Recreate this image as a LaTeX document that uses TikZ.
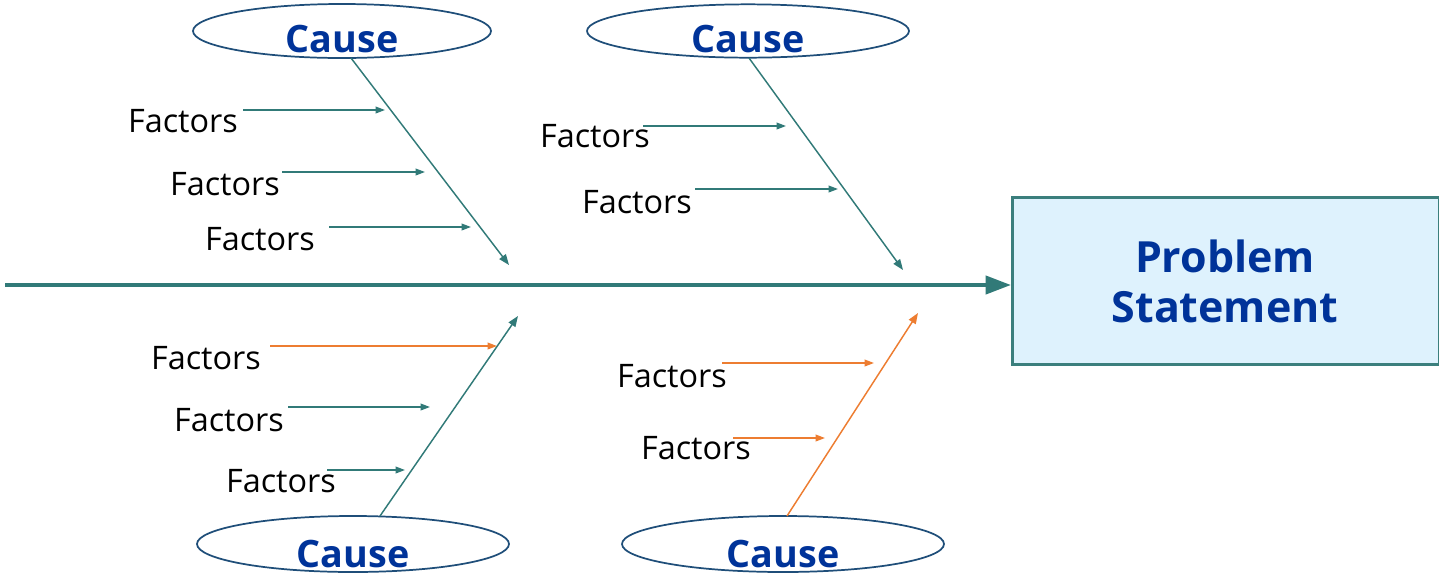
\documentclass[tikz,border=0pt]{standalone}
\usepackage{fontspec}
\setmainfont{Open Sans}
\usetikzlibrary{arrows.meta,shapes.geometric}
\definecolor{bone}{RGB}{49,122,120}
\definecolor{warm}{RGB}{237,125,49}
\definecolor{causeblue}{RGB}{0,51,153}
\definecolor{rim}{RGB}{31,78,121}
\definecolor{boxfill}{RGB}{222,242,253}
\definecolor{boxedge}{RGB}{59,127,125}
\begin{document}
\begin{tikzpicture}[x=0.75pt,y=-0.75pt,
  causering/.style={ellipse,draw=rim,line width=1.3pt,inner sep=0pt,fill=none},
  causetext/.style={font=\fontsize{28.3}{31}\selectfont\bfseries,text=causeblue,inner sep=0pt},
  factor/.style={font=\fontsize{24.3}{27}\selectfont,inner sep=0pt},
  rib/.style={line width=1.1pt,-{Triangle[length=8pt,width=6pt]}},
  twig/.style={line width=1.1pt,-{Triangle[length=7pt,width=5pt]}},
  spine/.style={draw=bone,line width=3pt,-{Triangle[length=19pt,width=13.5pt]}}]
\useasboundingbox (0,0) rectangle (1439,576);

% problem box at the head of the fish
\node (head) [draw=boxedge,fill=boxfill,line width=2pt,minimum width=427pt*0.75,
  minimum height=167pt*0.75,anchor=north west,inner sep=0pt] at (1011,196) {};
\node (headtext) [font=\fontsize{32.2}{37.5}\selectfont\bfseries,text=causeblue,
  align=center,inner sep=0pt] at (1225,281) {Problem\\Statement};

% backbone
\coordinate (tail) at (5,285);
\draw[spine] (tail) -- (tail -| head.west);

% cause ellipses
\node (c1) [causering,minimum width=223.5pt,minimum height=40.5pt] at (342,31) {};
\node (c2) [causering,minimum width=241.5pt,minimum height=40pt] at (748,31) {};
\node (c3) [causering,minimum width=234pt,minimum height=42pt] at (353,544) {};
\node (c4) [causering,minimum width=241.5pt,minimum height=42pt] at (783,544) {};
\node (t1) [causetext] at (342,39) {Cause};
\node (t2) [causetext] at (748,39) {Cause};
\node (t3) [causetext] at (353,554) {Cause};
\node (t4) [causetext] at (783,554) {Cause};

% main bones
\coordinate (b1s) at (351,58);  \coordinate (b1e) at (509,265);
\coordinate (b2s) at (749,58);  \coordinate (b2e) at (903,270);
\coordinate (b3s) at (380,516); \coordinate (b3e) at (518,316);
\coordinate (b4s) at (787,516); \coordinate (b4e) at (918,313);
\draw[rib,bone] (b1s) -- (b1e);
\draw[rib,bone] (b2s) -- (b2e);
\draw[rib,bone] (b3s) -- (b3e);
\draw[rib,warm] (b4s) -- (b4e);

% factor labels
\node (f1) [factor] at (183,121) {Factors};
\node (f2) [factor] at (225,184) {Factors};
\node (f3) [factor] at (260,239) {Factors};
\node (f4) [factor] at (595,136) {Factors};
\node (f5) [factor] at (637,202) {Factors};
\node (f6) [factor] at (206,358) {Factors};
\node (f7) [factor] at (229,420) {Factors};
\node (f8) [factor] at (281,481) {Factors};
\node (f9) [factor] at (672,376) {Factors};
\node (f10) [factor] at (696,448) {Factors};

% factor arrows
\coordinate (a1s) at (243,110); \coordinate (a1e) at (385,110);
\coordinate (a2s) at (282,172); \coordinate (a2e) at (425,172);
\coordinate (a3s) at (329,227); \coordinate (a3e) at (471,227);
\coordinate (a4s) at (643,126); \coordinate (a4e) at (786,126);
\coordinate (a5s) at (695,189); \coordinate (a5e) at (838,189);
\coordinate (a6s) at (270,346); \coordinate (a6e) at (497,346);
\coordinate (a7s) at (288,407); \coordinate (a7e) at (430,407);
\coordinate (a8s) at (327,470); \coordinate (a8e) at (405,470);
\coordinate (a9s) at (722,363); \coordinate (a9e) at (874,363);
\coordinate (a10s) at (733,438); \coordinate (a10e) at (825,438);
\draw[twig,bone] (a1s) -- (a1e);
\draw[twig,bone] (a2s) -- (a2e);
\draw[twig,bone] (a3s) -- (a3e);
\draw[twig,bone] (a4s) -- (a4e);
\draw[twig,bone] (a5s) -- (a5e);
\draw[twig,warm] (a6s) -- (a6e);
\draw[twig,bone] (a7s) -- (a7e);
\draw[twig,bone] (a8s) -- (a8e);
\draw[twig,warm] (a9s) -- (a9e);
\draw[twig,warm] (a10s) -- (a10e);
\end{tikzpicture}
\end{document}
